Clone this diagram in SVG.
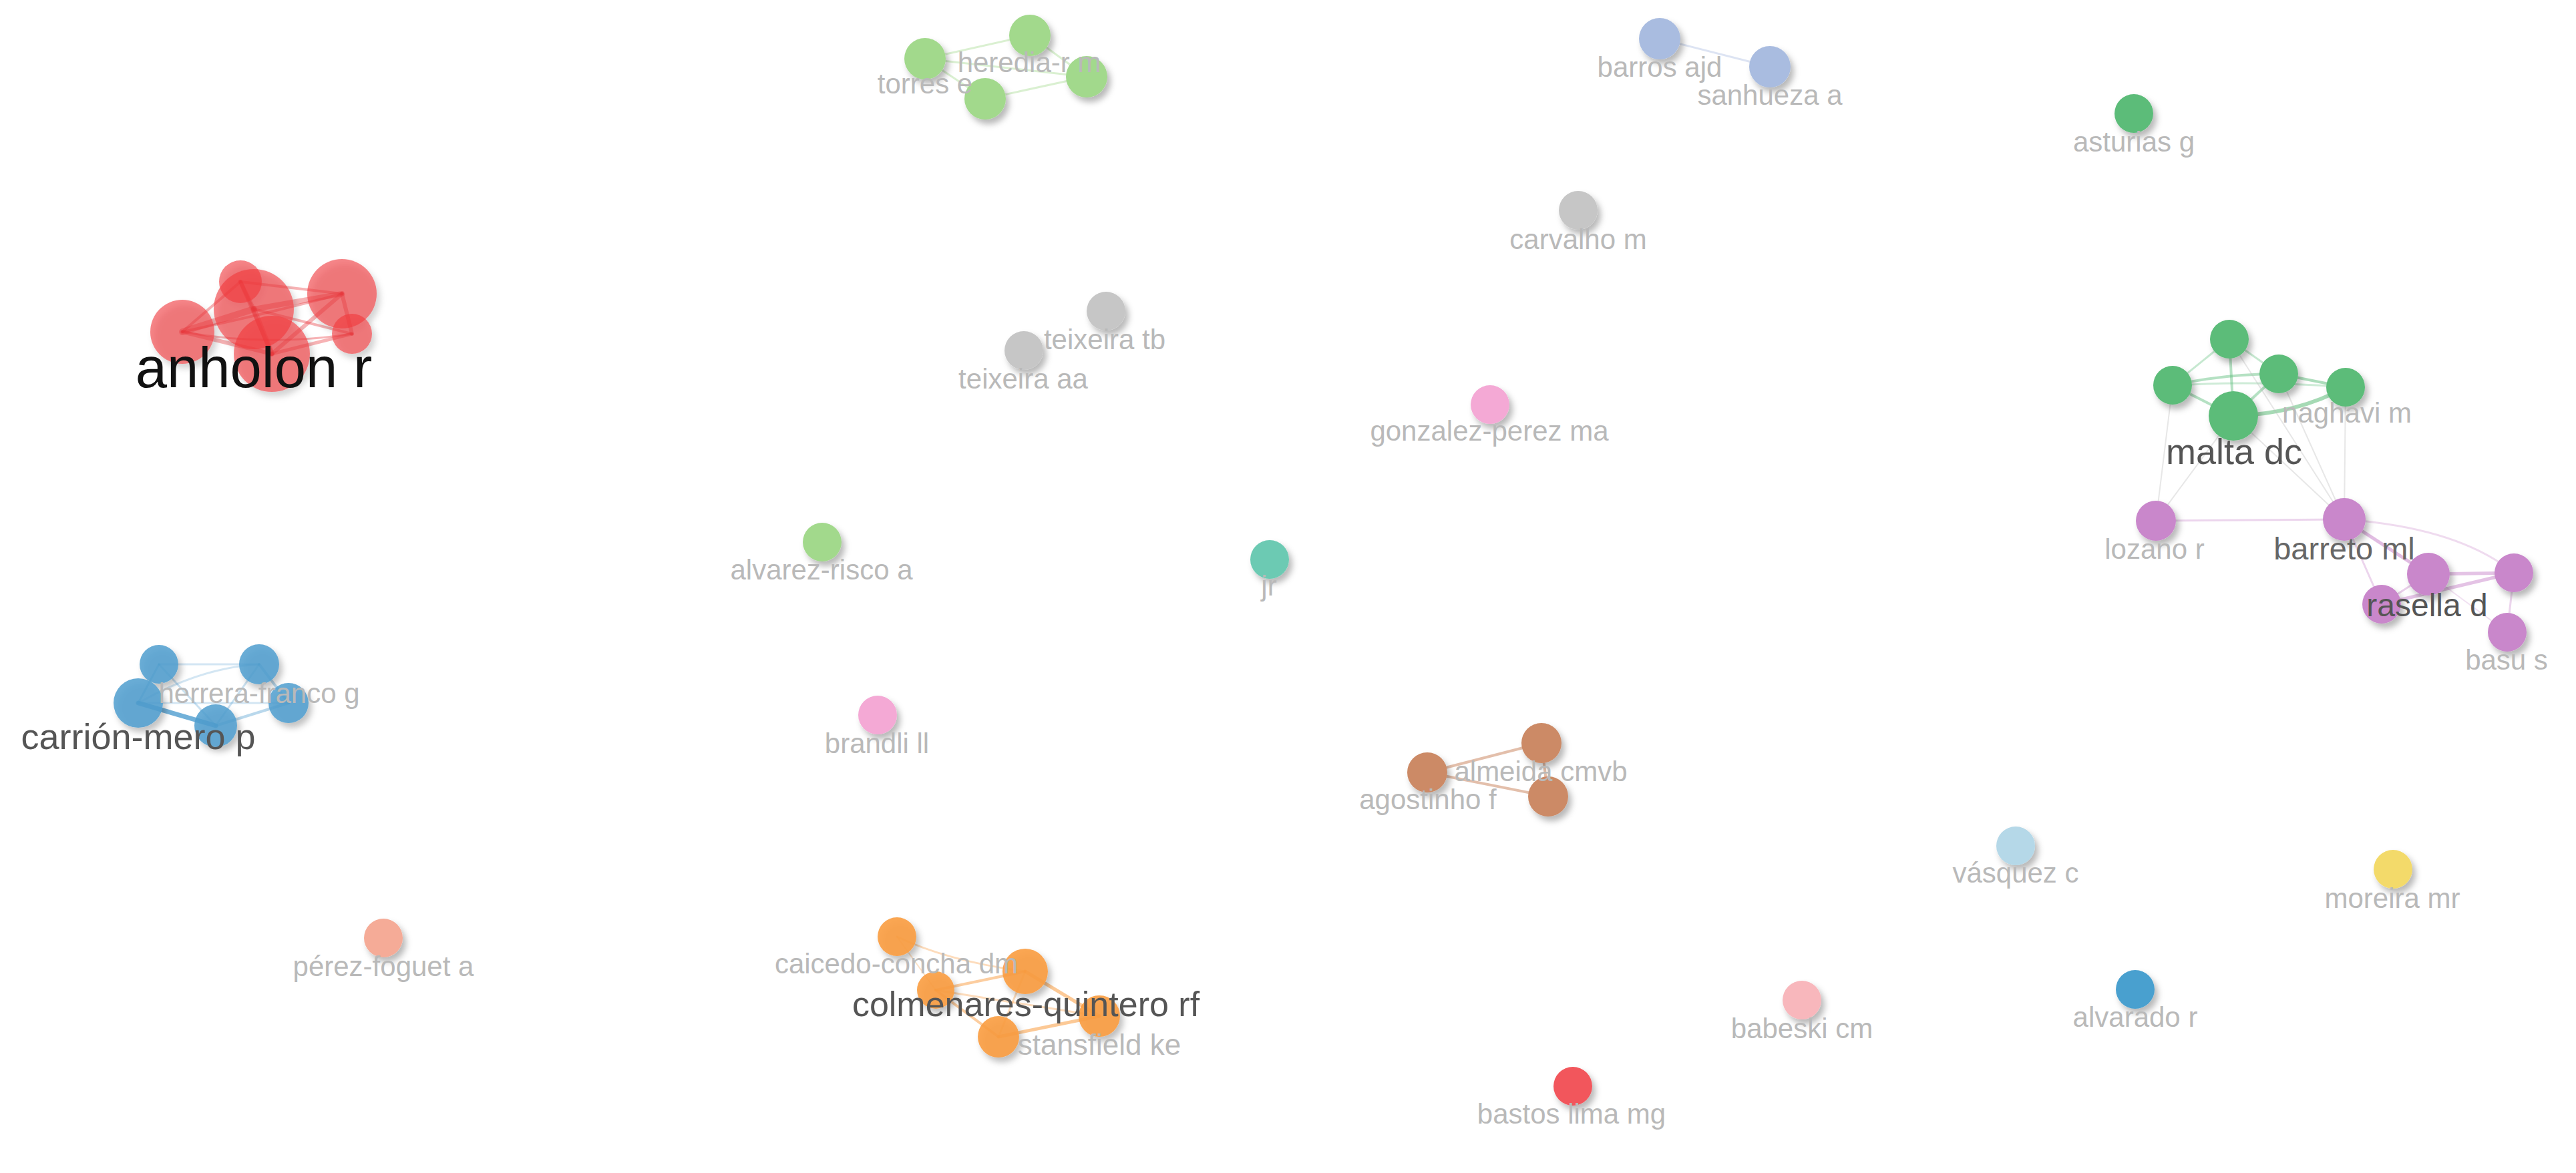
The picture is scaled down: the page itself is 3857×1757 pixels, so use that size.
<svg xmlns="http://www.w3.org/2000/svg" width="3857" height="1757" viewBox="0 0 3857 1757">
<defs>
<filter id="sh" x="-50%" y="-50%" width="200%" height="200%">
<feDropShadow dx="5" dy="7" stdDeviation="5" flood-color="#000" flood-opacity="0.28"/>
</filter>
<style>
text{font-family:"Liberation Sans",Arial,Helvetica,sans-serif;text-anchor:middle}
.s{font-size:42px;fill:#b9b9b9}
.m{font-size:54px;fill:#555}
.d{font-size:47px;fill:#666}
.big{font-size:85px;fill:#111}
.n{filter:url(#sh)}
.e{fill:none;stroke-linecap:round}
.red{fill:#f03a3f;fill-opacity:0.62}
.blue{fill:#4f9dcf;fill-opacity:0.85}
.lg{fill:#a2d98c}
.gr{fill:#5cbc79}
.pu{fill:#c987cb}
.or{fill:#f99c40;fill-opacity:0.9}
.br{fill:#cc8a66}
.ga{fill:#c6c6c6}
.pk{fill:#f4a9d5}
.te{fill:#6ccab3}
.sa{fill:#f5ab97}
.lb{fill:#b5d8e8}
.ye{fill:#f3da6b}
.lp{fill:#f8b7bc}
.db{fill:#4aa0cf}
.rd{fill:#f2565b}
.bg{fill:#a9bce0}
</style>
</defs>
<rect width="3857" height="1757" fill="#fff"/>
<g id="connectors">
<!-- red cluster -->
<g class="e" stroke="#e8262b" stroke-opacity="0.35">
<path d="M273,497 L380,463" stroke-width="10"/>
<path d="M273,497 L407,530" stroke-width="6"/>
<path d="M273,497 L360,422" stroke-width="4"/>
<path d="M273,497 Q400,470 512,440" stroke-width="4"/>
<path d="M273,497 Q400,520 527,500" stroke-width="3"/>
<path d="M360,422 L380,463" stroke-width="6"/>
<path d="M360,422 L407,530" stroke-width="6"/>
<path d="M360,422 L512,440" stroke-width="4"/>
<path d="M380,463 L407,530" stroke-width="8"/>
<path d="M380,463 L512,440" stroke-width="8"/>
<path d="M380,463 L527,500" stroke-width="4"/>
<path d="M407,530 L512,440" stroke-width="6"/>
<path d="M407,530 L527,500" stroke-width="5"/>
<path d="M512,440 L527,500" stroke-width="6"/>
</g>
<!-- blue cluster -->
<g class="e" stroke="#4f9dcf">
<path d="M207,1053 L323,1087" stroke-width="7" stroke-opacity="0.8"/>
<path d="M207,1053 L238,995" stroke-width="3" stroke-opacity="0.4"/>
<path d="M207,1053 Q300,1000 388,995" stroke-width="3" stroke-opacity="0.25"/>
<path d="M207,1053 L432,1053" stroke-width="3" stroke-opacity="0.25"/>
<path d="M238,995 L388,995" stroke-width="3" stroke-opacity="0.25"/>
<path d="M238,995 L323,1087" stroke-width="3" stroke-opacity="0.3"/>
<path d="M388,995 L432,1053" stroke-width="4" stroke-opacity="0.4"/>
<path d="M388,995 L323,1087" stroke-width="3" stroke-opacity="0.3"/>
<path d="M432,1053 L323,1087" stroke-width="4" stroke-opacity="0.4"/>
</g>
<!-- light green cluster -->
<g class="e" stroke="#a2d98c" stroke-opacity="0.4" stroke-width="3">
<path d="M1385,88 L1542,53"/>
<path d="M1542,53 L1627,115"/>
<path d="M1475,148 L1627,115"/>
<path d="M1385,88 L1475,148"/>
<path d="M1385,88 L1627,115"/>
</g>
<!-- barros -->
<path class="e" d="M2485,58 L2650,100" stroke="#a9bce0" stroke-opacity="0.4" stroke-width="3"/>
<!-- green cluster -->
<g class="e" stroke="#5cbc79">
<path d="M3338,508 L3344,623" stroke-width="4" stroke-opacity="0.45"/>
<path d="M3338,508 L3253,577" stroke-width="3" stroke-opacity="0.35"/>
<path d="M3338,508 L3412,560" stroke-width="3" stroke-opacity="0.35"/>
<path d="M3253,577 L3344,623" stroke-width="4" stroke-opacity="0.45"/>
<path d="M3253,577 Q3330,560 3412,560" stroke-width="4" stroke-opacity="0.45"/>
<path d="M3253,577 Q3380,570 3512,580" stroke-width="3" stroke-opacity="0.3"/>
<path d="M3412,560 L3512,580" stroke-width="4" stroke-opacity="0.5"/>
<path d="M3412,560 L3344,623" stroke-width="4" stroke-opacity="0.45"/>
<path d="M3344,623 Q3440,620 3512,580" stroke-width="6" stroke-opacity="0.55"/>
</g>
<!-- green-purple cross links -->
<g class="e" stroke="#bbb" stroke-opacity="0.35" stroke-width="2">
<path d="M3253,577 L3228,780"/>
<path d="M3344,623 L3228,780"/>
<path d="M3344,623 L3510,778"/>
<path d="M3412,560 L3510,778"/>
<path d="M3512,580 L3510,778"/>
<path d="M3338,508 L3510,778"/>
</g>
<!-- purple cluster -->
<g class="e" stroke="#c987cb">
<path d="M3228,780 L3510,778" stroke-width="3" stroke-opacity="0.35"/>
<path d="M3510,778 L3636,860" stroke-width="5" stroke-opacity="0.55"/>
<path d="M3510,778 Q3680,790 3764,858" stroke-width="3" stroke-opacity="0.3"/>
<path d="M3510,778 L3566,905" stroke-width="3" stroke-opacity="0.35"/>
<path d="M3636,860 L3764,858" stroke-width="5" stroke-opacity="0.5"/>
<path d="M3566,905 L3764,858" stroke-width="5" stroke-opacity="0.5"/>
<path d="M3636,860 L3566,905" stroke-width="3" stroke-opacity="0.4"/>
<path d="M3764,858 L3754,947" stroke-width="3" stroke-opacity="0.35"/>
<path d="M3636,860 L3754,947" stroke-width="2" stroke-opacity="0.25"/>
</g>
<!-- orange cluster -->
<g class="e" stroke="#f99c40">
<path d="M1343,1403 Q1420,1440 1535,1455" stroke-width="3" stroke-opacity="0.35"/>
<path d="M1343,1403 L1401,1483" stroke-width="2" stroke-opacity="0.3"/>
<path d="M1401,1483 L1535,1455" stroke-width="4" stroke-opacity="0.5"/>
<path d="M1535,1455 L1646,1522" stroke-width="5" stroke-opacity="0.55"/>
<path d="M1646,1522 L1495,1553" stroke-width="5" stroke-opacity="0.55"/>
<path d="M1495,1553 L1401,1483" stroke-width="4" stroke-opacity="0.5"/>
<path d="M1401,1483 L1646,1522" stroke-width="3" stroke-opacity="0.35"/>
<path d="M1535,1455 L1495,1553" stroke-width="3" stroke-opacity="0.35"/>
</g>
<!-- brown cluster -->
<g class="e" stroke="#cc8a66" stroke-opacity="0.55">
<path d="M2137,1157 L2308,1113" stroke-width="4"/>
<path d="M2137,1157 L2318,1193" stroke-width="4"/>
<path d="M2308,1113 L2318,1193" stroke-width="4"/>
</g>
</g>
<!-- nodes -->
<g id="anholon-cluster" class="n">
<circle class="red" cx="273" cy="497" r="48"/>
<circle class="red" cx="360" cy="422" r="32"/>
<circle class="red" cx="380" cy="463" r="60"/>
<circle class="red" cx="407" cy="530" r="57"/>
<circle class="red" cx="512" cy="440" r="52"/>
<circle class="red" cx="527" cy="500" r="30"/>
</g>
<g id="carrion-cluster" class="n">
<circle class="blue" cx="238" cy="995" r="29"/>
<circle class="blue" cx="388" cy="995" r="30"/>
<circle class="blue" cx="207" cy="1053" r="37"/>
<circle class="blue" cx="432" cy="1053" r="30"/>
<circle class="blue" cx="323" cy="1087" r="32"/>
</g>
<g id="heredia-cluster" class="n">
<circle class="lg" cx="1385" cy="88" r="31"/>
<circle class="lg" cx="1542" cy="53" r="31"/>
<circle class="lg" cx="1475" cy="148" r="31"/>
<circle class="lg" cx="1627" cy="115" r="31"/>
</g>
<g id="barros-cluster" class="n">
<circle class="bg" cx="2485" cy="58" r="31"/>
<circle class="bg" cx="2650" cy="100" r="31"/>
</g>
<g id="teixeira-tb" class="n"><circle class="ga" cx="1656" cy="466" r="29"/></g>
<g id="teixeira-aa" class="n"><circle class="ga" cx="1533" cy="525" r="29"/></g>
<g id="carvalho-m" class="n"><circle class="ga" cx="2363" cy="315" r="29"/></g>
<g id="asturias-g" class="n"><circle class="gr" cx="3195" cy="170" r="29"/></g>
<g id="gonzalez-perez-ma" class="n"><circle class="pk" cx="2231" cy="606" r="29"/></g>
<g id="alvarez-risco-a" class="n"><circle class="lg" cx="1231" cy="812" r="29"/></g>
<g id="jr" class="n"><circle class="te" cx="1901" cy="838" r="29"/></g>
<g id="brandli-ll" class="n"><circle class="pk" cx="1314" cy="1071" r="29"/></g>
<g id="perez-foguet-a" class="n"><circle class="sa" cx="574" cy="1405" r="29"/></g>
<g id="malta-cluster" class="n">
<circle class="gr" cx="3338" cy="508" r="29"/>
<circle class="gr" cx="3253" cy="577" r="29"/>
<circle class="gr" cx="3412" cy="560" r="29"/>
<circle class="gr" cx="3512" cy="580" r="29"/>
<circle class="gr" cx="3344" cy="623" r="37"/>
</g>
<g id="rasella-cluster" class="n">
<circle class="pu" cx="3228" cy="780" r="30"/>
<circle class="pu" cx="3510" cy="778" r="32"/>
<circle class="pu" cx="3636" cy="860" r="32"/>
<circle class="pu" cx="3764" cy="858" r="29"/>
<circle class="pu" cx="3566" cy="905" r="29"/>
<circle class="pu" cx="3754" cy="947" r="29"/>
</g>
<g id="colmenares-cluster" class="n">
<circle class="or" cx="1343" cy="1403" r="29"/>
<circle class="or" cx="1401" cy="1483" r="28"/>
<circle class="or" cx="1535" cy="1455" r="34"/>
<circle class="or" cx="1646" cy="1522" r="31"/>
<circle class="or" cx="1495" cy="1553" r="31"/>
</g>
<g id="agostinho-cluster" class="n">
<circle class="br" cx="2137" cy="1157" r="30"/>
<circle class="br" cx="2308" cy="1113" r="30"/>
<circle class="br" cx="2318" cy="1193" r="30"/>
</g>
<g id="vasquez-c" class="n"><circle class="lb" cx="3018" cy="1267" r="29"/></g>
<g id="moreira-mr" class="n"><circle class="ye" cx="3583" cy="1302" r="29"/></g>
<g id="babeski-cm" class="n"><circle class="lp" cx="2698" cy="1498" r="29"/></g>
<g id="alvarado-r" class="n"><circle class="db" cx="3197" cy="1482" r="29"/></g>
<g id="bastos-lima-mg" class="n"><circle class="rd" cx="2355" cy="1627" r="29"/></g>
<!-- labels -->
<g id="labels">
<text class="big" x="380" y="580">anholon r</text>
<text class="s" x="388" y="1053">herrera-franco g</text>
<text class="m" x="207" y="1122">carrión-mero p</text>
<text class="s" x="1541" y="108">heredia-r m</text>
<text class="s" x="1385" y="140">torres e</text>
<text class="s" x="2485" y="115">barros ajd</text>
<text class="s" x="2650" y="157">sanhueza a</text>
<text class="s" x="3195" y="227">asturias g</text>
<text class="s" x="2363" y="373">carvalho m</text>
<text class="s" x="1654" y="523">teixeira tb</text>
<text class="s" x="1532" y="582">teixeira aa</text>
<text class="s" x="2230" y="660">gonzalez-perez ma</text>
<text class="s" x="1230" y="868">alvarez-risco a</text>
<text class="s" x="1900" y="892">jr</text>
<text class="s" x="1313" y="1128">brandli ll</text>
<text class="s" x="574" y="1462">pérez-foguet a</text>
<text class="s" x="3514" y="633">naghavi m</text>
<text class="m" x="3345" y="695">malta dc</text>
<text class="s" x="3226" y="837">lozano r</text>
<text class="d" x="3510" y="838">barreto ml</text>
<text class="d" x="3634" y="923" style="font-size:48px;fill:#555">rasella d</text>
<text class="s" x="3753" y="1003">basu s</text>
<text class="s" x="1342" y="1458">caicedo-concha dm</text>
<text class="m" x="1536" y="1522" style="font-size:52px">colmenares-quintero rf</text>
<text class="s" x="1646" y="1580" style="font-size:44px">stansfield ke</text>
<text class="s" x="2307" y="1170">almeida cmvb</text>
<text class="s" x="2138" y="1212">agostinho f</text>
<text class="s" x="3018" y="1322">vásquez c</text>
<text class="s" x="3582" y="1360">moreira mr</text>
<text class="s" x="2698" y="1555">babeski cm</text>
<text class="s" x="3197" y="1538">alvarado r</text>
<text class="s" x="2353" y="1683">bastos lima mg</text>
</g>
</svg>
